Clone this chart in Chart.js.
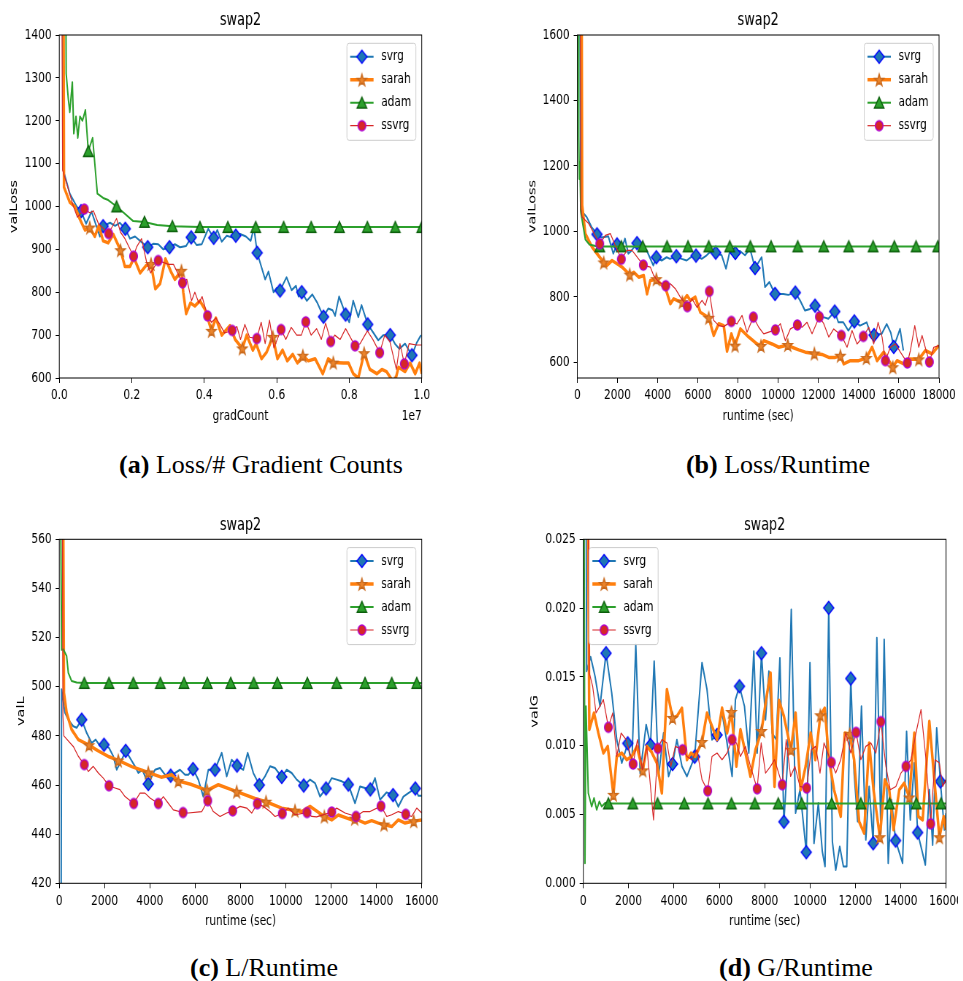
<!DOCTYPE html>
<html lang="en">
<head>
<meta charset="UTF-8">
<title>swap2</title>
<style>
  body { margin: 0; background: #fff; width: 963px; height: 981px; position: relative; overflow: hidden; }
  .painel { position: absolute; width: 600px; transform: scaleX(0.73); transform-origin: 0 0; }
  .legenda {
    position: absolute; font-family: 'Liberation Serif', 'Times New Roman', serif; font-size: 26px;
    line-height: 30px; color: #000; white-space: nowrap; transform: translateX(-50%);
  }
</style>
<script src="https://cdn.jsdelivr.net/npm/chart.js"></script>
</head>
<body>

<div class="painel" style="left:0px;top:0px"><canvas id="ga" width="600" height="430"></canvas></div>
<div class="painel" style="left:520px;top:0px"><canvas id="gb" width="600" height="430"></canvas></div>
<div class="painel" style="left:0px;top:500px"><canvas id="gc" width="600" height="440"></canvas></div>
<div class="painel" style="left:520px;top:500px"><canvas id="gd" width="600" height="440"></canvas></div>

<div class="legenda" style="left:261px;top:450px"><b>(a)</b> Loss/# Gradient Counts</div>
<div class="legenda" style="left:778px;top:450px"><b>(b)</b> Loss/Runtime</div>
<div class="legenda" style="left:264px;top:953px"><b>(c)</b> L/Runtime</div>
<div class="legenda" style="left:796px;top:953px"><b>(d)</b> G/Runtime</div>

<script>
// ---------- (a) valLoss x gradCount (x em unidades de 1e7) ----------
const aXTicks = [0, 0.2, 0.4, 0.6, 0.8, 1.0];
const aXLabels = ['0.0', '0.2', '0.4', '0.6', '0.8', '1.0'];
const aYTicks = [600, 700, 800, 900, 1000, 1100, 1200, 1300, 1400];

const aSvrgLinha = [[0.008,1700],[0.011,1085],[0.029,1030],[0.048,1000],[0.074,960],[0.089,988],[0.112,930],[0.140,962],[0.154,955],[0.167,962],[0.195,925],[0.209,930],[0.223,920],[0.259,913],[0.273,912],[0.287,900],[0.319,912],[0.333,905],[0.350,908],[0.379,910],[0.393,912],[0.411,948],[0.436,945],[0.448,918],[0.462,932],[0.476,928],[0.499,936],[0.515,930],[0.528,920],[0.537,950],[0.568,830],[0.577,848],[0.591,800],[0.600,810],[0.627,835],[0.641,805],[0.653,815],[0.660,790],[0.683,780],[0.698,795],[0.712,775],[0.742,762],[0.754,758],[0.761,745],[0.772,790],[0.784,762],[0.800,730],[0.811,780],[0.825,742],[0.834,770],[0.867,705],[0.880,688],[0.894,700],[0.926,680],[0.938,668],[0.954,680],[0.986,682],[0.998,700]];
const aSvrgMarcas = [[0.060,989],[0.121,954],[0.182,948],[0.244,905],[0.304,905],[0.364,928],[0.426,927],[0.487,932],[0.546,892],[0.609,804],[0.669,800],[0.729,743],[0.790,748],[0.851,725],[0.913,700],[0.973,653]];
const aSarahLinha = [[0.011,1700],[0.013,1045],[0.029,1010],[0.043,1000],[0.057,970],[0.071,945],[0.098,930],[0.109,955],[0.121,920],[0.135,915],[0.149,935],[0.181,860],[0.195,860],[0.206,880],[0.223,845],[0.239,862],[0.265,808],[0.278,820],[0.293,878],[0.308,848],[0.319,830],[0.342,800],[0.350,750],[0.362,775],[0.374,768],[0.388,780],[0.402,760],[0.432,740],[0.448,700],[0.471,722],[0.485,690],[0.517,700],[0.534,665],[0.543,680],[0.558,645],[0.572,660],[0.602,645],[0.616,665],[0.629,640],[0.644,655],[0.657,635],[0.687,640],[0.706,645],[0.727,610],[0.742,645],[0.784,635],[0.798,635],[0.811,610],[0.825,600],[0.857,620],[0.876,610],[0.890,620],[0.903,615],[0.922,590],[0.936,625],[0.954,615],[0.968,635],[0.982,610],[0.994,635],[1.0,610]];
const aSarahMarcas = [[0.084,951],[0.169,898],[0.253,866],[0.337,850],[0.420,710],[0.505,669],[0.589,696],[0.672,652],[0.756,636],[0.841,658],[0.925,588]];
const aAdamLinha = [[0.017,1700],[0.019,1310],[0.025,1250],[0.029,1220],[0.036,1290],[0.040,1170],[0.046,1210],[0.051,1160],[0.057,1210],[0.064,1200],[0.072,1225],[0.092,1160],[0.105,1030],[0.121,1020],[0.135,1015],[0.204,966],[0.270,957]];
const aAdamMarcas = [[0.080,1129],[0.158,1000],[0.235,964],[0.312,954],[0.388,952],[0.465,952],[0.542,952],[0.619,952],[0.695,952],[0.773,952],[0.850,952],[0.927,952],[1.0,952]];
const aSsvrgLinha = [[0.006,1700],[0.009,1085],[0.025,1040],[0.039,1000],[0.050,975],[0.085,985],[0.094,990],[0.108,960],[0.158,972],[0.169,940],[0.181,925],[0.213,905],[0.227,925],[0.241,870],[0.252,845],[0.301,865],[0.315,865],[0.352,830],[0.365,780],[0.374,800],[0.385,775],[0.394,790],[0.420,730],[0.432,740],[0.443,725],[0.456,705],[0.490,720],[0.500,690],[0.512,725],[0.525,695],[0.557,730],[0.568,680],[0.580,735],[0.592,670],[0.625,690],[0.640,718],[0.655,700],[0.668,700],[0.695,700],[0.710,715],[0.723,690],[0.735,728],[0.760,700],[0.775,690],[0.790,715],[0.830,680],[0.850,710],[0.865,690],[0.898,700],[0.912,685],[0.930,620],[0.940,680],[0.965,680],[0.985,677],[1.0,677]];
const aSsvrgMarcas = [[0.069,994],[0.136,937],[0.205,884],[0.273,874],[0.340,822],[0.409,745],[0.477,711],[0.545,692],[0.612,713],[0.680,731],[0.749,685],[0.816,675],[0.884,659],[0.952,633]];

// ---------- (b) valLoss x runtime ----------
const bXTicks = [0, 2000, 4000, 6000, 8000, 10000, 12000, 14000, 16000, 18000];
const bXLabels = ['0', '2000', '4000', '6000', '8000', '10000', '12000', '14000', '16000', '18000'];
const bYTicks = [600, 800, 1000, 1200, 1400, 1600];

const bSvrgLinha = [[133,1700],[166,1065],[465,1044],[713,1013],[1211,981],[1543,985],[1792,932],[2206,947],[2372,978],[2538,932],[2704,942],[3202,957],[3451,942],[3783,896],[4197,911],[4446,921],[4612,916],[5193,916],[5441,911],[5690,923],[6188,916],[6437,927],[6686,942],[7183,927],[7399,886],[7598,942],[8096,940],[8345,927],[8593,947],[9174,921],[9340,830],[9556,845],[10253,809],[10501,806],[11082,789],[11331,758],[11580,763],[12243,738],[12492,733],[12990,722],[13239,722],[13488,697],[14068,712],[14400,722],[14566,692],[15146,687],[15395,717],[15600,690],[16059,702],[16225,636]];
const bSvrgMarcas = [[980,991],[1976,960],[2971,964],[3931,921],[4927,924],[5907,926],[6887,935],[7863,934],[8843,888],[9838,809],[10849,813],[11829,773],[12810,755],[13785,725],[14765,683],[15746,647]];
const bSarahLinha = [[216,1700],[240,1080],[398,993],[732,952],[980,932],[1478,896],[1727,911],[1976,901],[2225,891],[2807,875],[3056,860],[3305,865],[3469,809],[3633,850],[4216,835],[4380,828],[4629,779],[4798,794],[4962,789],[5460,804],[5624,789],[5873,799],[6122,753],[6371,743],[6788,682],[7037,718],[7286,712],[7450,634],[7665,687],[8113,702],[8531,677],[8944,656],[9277,666],[9690,656],[10022,646],[10686,646],[11019,638],[11348,631],[12179,624],[12512,615],[12841,615],[13258,595],[13587,605],[14006,605],[14667,646],[14916,605],[15249,631],[15911,605],[16245,595],[16494,610],[17320,636],[17653,626],[17987,651]];
const bSarahMarcas = [[1314,905],[2608,868],[3932,854],[5226,784],[6540,736],[7849,651],[9143,650],[10472,653],[11796,627],[13090,620],[14384,613],[15698,585],[16992,609]];
const bAdamLinha = [[60,1700],[70,1290],[100,1160],[130,1210],[170,1060],[250,1030],[400,975],[600,960],[900,955],[18000,954]];
const bAdamMarcas = [[1115,954],[2190,954],[3255,954],[4464,954],[5510,954],[6540,954],[7585,954],[8610,954],[9641,954],[10969,954],[12263,954],[13507,954],[14717,954],[15777,954],[16857,954],[17937,954]];
const bSsvrgLinha = [[150,1700],[180,1070],[234,1044],[567,1024],[1394,988],[1643,993],[1892,957],[2474,942],[2723,942],[3633,891],[3800,865],[4051,845],[4629,840],[4878,825],[5126,799],[5709,794],[5958,768],[6206,789],[6371,774],[6788,728],[7037,712],[7286,709],[7948,717],[8197,743],[8446,692],[9028,707],[9277,687],[9526,692],[10105,718],[10353,666],[10602,702],[11184,707],[11432,722],[11681,687],[12263,718],[12512,677],[12761,702],[13423,646],[13671,697],[13920,656],[14502,707],[14751,656],[14966,722],[15166,677],[15578,646],[15827,656],[16076,631],[16574,636],[16792,712],[16991,646],[17156,682],[17355,636],[17738,646],[18000,651]];
const bSsvrgMarcas = [[1115,962],[2190,915],[3285,897],[4400,834],[5475,770],[6570,817],[7665,725],[8760,738],[9855,699],[10950,714],[12045,739],[13140,682],[14235,679],[15329,605],[16424,598],[17519,601]];

// ---------- (c) valL x runtime ----------
const cdXTicks = [0, 2000, 4000, 6000, 8000, 10000, 12000, 14000, 16000];
const cdXLabels = ['0', '2000', '4000', '6000', '8000', '10000', '12000', '14000', '16000'];
const cYTicks = [420, 440, 460, 480, 500, 520, 540, 560];

const cSvrgLinha = [[80,400],[100,499],[250,489.4],[397,486.6],[618,483.9],[768,483.3],[1209,481.2],[1430,477.1],[1607,478.5],[1790,476],[2194,475.1],[2384,471.7],[2534,466.2],[2755,470.3],[3166,470.3],[3342,467.6],[3488,464.9],[3665,466.2],[4225,466.2],[4446,466.9],[4667,464.2],[5108,464.9],[5329,466.2],[5550,464.2],[5697,464.2],[6137,462.2],[6358,455.3],[6579,466.2],[7170,473.1],[7391,463.5],[7611,470.3],[8125,466.2],[8317,473.1],[8565,464.9],[9082,463.5],[9302,467.6],[9523,466.9],[10039,466.2],[10260,464.9],[10481,462.2],[11069,462.2],[11289,460.8],[11510,455.3],[12026,462.8],[12247,462.2],[12468,461.5],[13055,452.6],[13276,459.4],[13497,458.8],[13938,462.8],[14159,454],[14450,457],[14968,451.2],[15189,455.3],[15409,456.7],[15850,455.6],[16000,455.6]];
const cSvrgMarcas = [[989,486.6],[1974,476.4],[2932,473.9],[3929,460.4],[4918,463.8],[5903,466.5],[6874,466.2],[7846,467.9],[8830,460.0],[9819,463.3],[10790,459.8],[11775,458.6],[12760,460.2],[13731,458.2],[14733,455.9],[15717,458.6]];
const cSarahLinha = [[160,600],[206,497.5],[324,489.4],[545,482.6],[839,478.5],[1700,474],[2200,471.5],[3200,467.5],[4500,463.2],[4962,464.2],[5800,460.3],[7020,460.1],[8640,454.5],[9819,450.6],[10702,449.2],[11069,451.3],[12026,445.8],[12320,447.8],[12910,445.8],[13497,444.5],[13790,445.5],[14085,444.5],[14675,443.1],[14968,445.8],[15262,444.5],[16000,445.8]];
const cSarahMarcas = [[1311,476.2],[2605,470.0],[3929,465.1],[5254,461.6],[6521,457.8],[7832,457.3],[9126,453.2],[10406,449.6],[11700,447.2],[13040,446.3],[14336,443.9],[15646,445.3]];
const cAdamLinha = [[40,600],[103,515],[177,515.2],[324,512.5],[397,505.7],[545,502.3],[766,501.7],[16000,501.5]];
const cAdamMarcas = [[1104,501.5],[2194,501.5],[3267,501.5],[4459,501.5],[5505,501.5],[6534,501.5],[7567,501.5],[8583,501.5],[9625,501.5],[10949,501.5],[12247,501.5],[13497,501.5],[14675,501.5],[15779,501.5]];
const cSsvrgLinha = [[125,600],[160,488],[200,480],[618,475.7],[839,471.7],[1280,465.5],[1501,467.6],[1722,464.9],[1943,462.8],[2459,458.8],[2680,458.1],[2901,455.3],[3563,456.7],[3784,456.7],[4004,454.7],[4592,455.3],[4812,452.6],[5033,449.9],[5697,448.6],[6288,449.2],[6799,449.2],[7095,447.2],[7391,448.6],[7978,451.3],[8273,450.6],[8494,448.6],[9007,451.3],[9302,449.2],[9523,447.2],[10111,450.6],[10406,447.9],[11142,447.2],[11360,447],[12247,450.6],[12614,448.6],[13422,449.2],[13717,449.2],[14453,447.2],[14675,447.9],[14968,449.2],[15557,447.2],[15779,450.6],[16000,448.6]];
const cSsvrgMarcas = [[1104,468.3],[2194,459.7],[3285,452.5],[4371,452.5],[5462,448.8],[6552,453.6],[7656,449.5],[8742,452.4],[9846,448.4],[10936,448.8],[12026,449.0],[13099,447.2],[14203,451.4],[15294,448.1]];

// ---------- (d) valG x runtime ----------
const dYTicks = [0, 0.005, 0.010, 0.015, 0.020, 0.025];
const dYLabels = ['0.000', '0.005', '0.010', '0.015', '0.020', '0.025'];

const dSvrgLinha = [[120,0.03],[147,0.01541],[324,0.01646],[516,0.01505],[737,0.01287],[1253,0.01384],[1475,0.01044],[1696,0.00874],[2138,0.0085],[2315,0.01736],[2507,0.00801],[2772,0.01153],[3126,0.01614],[3318,0.00777],[3539,0.01092],[3760,0.00777],[4129,0.01044],[4350,0.0085],[4572,0.00777],[5235,0.01602],[5456,0.01408],[5677,0.01044],[6120,0.01238],[6341,0.0102],[6563,0.00777],[6710,0.01335],[7108,0.01287],[7300,0.00947],[7521,0.01687],[7668,0.00947],[8037,0.01189],[8185,0.01541],[8332,0.01092],[8509,0.01044],[8671,0.01638],[8996,0.0085],[9173,0.0199],[9364,0.0051],[9556,0.0068],[9998,0.01602],[10175,0.00291],[10367,0.00583],[10544,0.00231],[10662,0.00122],[10987,0.00303],[11134,0.00097],[11311,0.00267],[11473,0.00122],[11621,0.00122],[11945,0.00801],[12100,0.0045],[12269,0.01287],[12461,0.00316],[12609,0.00704],[12948,0.01784],[13125,0.00364],[13272,0.01772],[13449,0.00146],[13596,0.00607],[14083,0.00146],[14260,0.01104],[14423,0.00461],[14600,0.00874],[15086,0.00134],[15263,0.0068],[15410,0.00279],[15587,0.01129],[15927,0.00389],[16000,0.0051]];
const dSvrgMarcas = [[1003,0.01672],[1961,0.01017],[2964,0.01005],[3937,0.00867],[4911,0.0092],[5899,0.01078],[6887,0.01432],[7860,0.01672],[8848,0.00447],[9836,0.00226],[10824,0.02002],[11797,0.01488],[12785,0.00291],[13773,0.00311],[14747,0.00369],[15750,0.0074]];
const dSarahLinha = [[200,0.03],[265,0.01117],[472,0.01238],[664,0.01092],[885,0.00947],[1077,0.00995],[1475,0.00922],[1696,0.00947],[1917,0.00898],[2138,0.00922],[2360,0.00995],[2802,0.00995],[2994,0.00959],[3244,0.00874],[3465,0.00656],[3687,0.01408],[4129,0.01214],[4350,0.01274],[4572,0.00898],[4749,0.00947],[4940,0.00922],[5456,0.01238],[5677,0.01141],[5899,0.01044],[6120,0.01274],[6341,0.01092],[6754,0.0085],[6931,0.01117],[7152,0.00947],[7374,0.00777],[7595,0.00971],[8081,0.01354],[8258,0.01529],[8435,0.00704],[8627,0.0133],[8848,0.01214],[9364,0.01238],[9586,0.0068],[9807,0.0085],[10028,0.01092],[10234,0.00898],[10647,0.01274],[10839,0.00898],[11060,0.0068],[11355,0.00486],[11532,0.01092],[11945,0.00898],[12166,0.00449],[12387,0.00364],[12609,0.0102],[12801,0.0068],[13301,0.00753],[13493,0.0068],[13685,0.00389],[13936,0.0068],[14157,0.00728],[14600,0.01092],[14777,0.00486],[14969,0.00461],[15263,0.01177],[15484,0.00753],[15897,0.00486],[16000,0.00389]];
const dSarahMarcas = [[1327,0.00643],[2625,0.00821],[3937,0.01202],[5235,0.01027],[6533,0.01245],[7860,0.01107],[9158,0.00971],[10456,0.01221],[11753,0.01085],[13081,0.00335],[14379,0.00624],[15706,0.00335]];
const dAdamLinha = [[30,0.03],[74,0.00146],[118,0.01287],[221,0.00655],[295,0.00607],[369,0.00558],[472,0.00619],[590,0.00534],[708,0.00595],[811,0.00558],[958,0.00583],[16000,0.0058]];
const dAdamMarcas = [[1106,0.0058],[2183,0.0058],[3274,0.0058],[4454,0.0058],[5501,0.0058],[6533,0.0058],[7565,0.0058],[8597,0.0058],[9630,0.0058],[10957,0.0058],[12240,0.0058],[13508,0.0058],[14688,0.0058],[15779,0.0058]];
const dSsvrgLinha = [[200,0.03],[265,0.01529],[413,0.01432],[560,0.01238],[737,0.01287],[885,0.01335],[1298,0.01238],[1475,0.00922],[1666,0.01092],[1888,0.01044],[2389,0.01044],[2610,0.00825],[2802,0.00995],[3097,0.00461],[3466,0.01044],[3687,0.0102],[3864,0.0085],[4056,0.00995],[4572,0.00922],[4793,0.00898],[5014,0.00971],[5235,0.00753],[5677,0.00922],[5899,0.00947],[6120,0.00898],[6341,0.00947],[6754,0.0102],[6931,0.00922],[7152,0.00995],[7374,0.0085],[7845,0.0102],[8037,0.00801],[8258,0.0085],[8435,0.00898],[8951,0.01044],[9143,0.00777],[9335,0.0085],[9556,0.00704],[10057,0.00971],[10249,0.00995],[10441,0.00801],[10618,0.0102],[11134,0.00801],[11355,0.00898],[11576,0.01092],[11797,0.00947],[12240,0.00898],[12461,0.00995],[12682,0.0102],[12904,0.00947],[13346,0.0085],[13538,0.0068],[13788,0.00704],[14010,0.00801],[14452,0.00898],[14674,0.01092],[14895,0.01262],[15116,0.00898],[15513,0.00898],[15706,0.00874],[15853,0.00704],[16000,0.00753]];
const dSsvrgMarcas = [[1106,0.01134],[2197,0.00867],[3289,0.00981],[4380,0.00971],[5486,0.00672],[6563,0.01044],[7668,0.00687],[8774,0.00716],[9851,0.00692],[10942,0.00879],[12034,0.01097],[13125,0.01175],[14231,0.0085],[15322,0.00432]];

// ---------- estilo ----------
const fam = "'DejaVu Sans', 'Liberation Sans', sans-serif";
const fonteTxt = { family: fam, size: 14.5 };

// marcadores desenhados num canvas pequeno (pointStyle aceita canvas)
function desenhaMarcador(tipo) {
  const c = document.createElement('canvas');
  c.width = 20; c.height = 20;
  const g = c.getContext('2d');
  g.translate(10, 10);
  g.lineWidth = 1.4;
  g.beginPath();
  if (tipo === 'losango') {
    g.moveTo(0, -6.6); g.lineTo(7, 0); g.lineTo(0, 6.6); g.lineTo(-7, 0);
    g.fillStyle = '#1f77b4'; g.strokeStyle = '#0000ff';
  } else if (tipo === 'estrela') {
    for (let k = 0; k < 10; k++) {
      const r = k % 2 === 0 ? 6.8 : 2.7;
      const ang = -Math.PI / 2 + k * Math.PI / 5;
      const px = r * Math.cos(ang), py = r * Math.sin(ang) * 0.94 + 0.6;
      if (k === 0) g.moveTo(px, py); else g.lineTo(px, py);
    }
    g.fillStyle = '#ec852c'; g.strokeStyle = '#c9691c';
  } else if (tipo === 'triangulo') {
    g.moveTo(0, -5.6); g.lineTo(6.6, 5.2); g.lineTo(-6.6, 5.2);
    g.fillStyle = '#2ca02c'; g.strokeStyle = '#0b5d0b';
  } else {
    g.ellipse(0, 0, 5.4, 5.0, 0, 0, Math.PI * 2);
    g.fillStyle = '#d62728'; g.strokeStyle = '#b000d0';
  }
  g.closePath();
  g.fill();
  g.stroke();
  return c;
}
const imgLosango = desenhaMarcador('losango');
const imgEstrela = desenhaMarcador('estrela');
const imgTriangulo = desenhaMarcador('triangulo');
const imgCirculo = desenhaMarcador('circulo');

function serie(nome, linha, marcas, cor, largura, img, ordem) {
  const pts = linha.map(p => ({ x: p[0], y: p[1], mk: false }))
    .concat(marcas.map(p => ({ x: p[0], y: p[1], mk: true })))
    .sort((a, b) => a.x - b.x);
  return {
    label: nome, data: pts, borderColor: cor, backgroundColor: cor, borderWidth: largura,
    pointStyle: img, pointRadius: c => (c.raw && c.raw.mk ? 4 : 0), pointHoverRadius: 0,
    tension: 0, clip: 0, order: ordem, borderJoinStyle: 'round', fill: false
  };
}

// moldura (spines), legenda dentro do grafico e texto "1e7"
const moldura = {
  id: 'moldura',
  afterDatasetsDraw(chart, args, opts) {
    const { ctx, chartArea: a } = chart;
    ctx.save();
    ctx.strokeStyle = '#000';
    ctx.lineWidth = 1;
    ctx.strokeRect(a.left, a.top, a.right - a.left, a.bottom - a.top);

    const bw = 94.5, bh = 97;
    const bx = opts.lado === 'esq' ? a.left + 8 : a.right - 8 - bw;
    const by = a.top + 8.3;
    ctx.beginPath();
    ctx.roundRect(bx, by, bw, bh, 3);
    ctx.fillStyle = 'rgba(255,255,255,0.8)';
    ctx.fill();
    ctx.strokeStyle = '#cccccc';
    ctx.stroke();
    chart.data.datasets.forEach((d, i) => {
      const cy = by + 13.4 + i * 23;
      ctx.strokeStyle = d.borderColor;
      ctx.lineWidth = d.borderWidth;
      ctx.beginPath();
      ctx.moveTo(bx + 4.5, cy);
      ctx.lineTo(bx + 36.5, cy);
      ctx.stroke();
      ctx.drawImage(d.pointStyle, bx + 20.5 - 10, cy - 10);
      ctx.fillStyle = '#000';
      ctx.font = '14.5px ' + fam;
      ctx.textBaseline = 'middle';
      ctx.textAlign = 'left';
      ctx.fillText(d.label, bx + 47, cy);
    });

    if (opts.offset) {
      ctx.fillStyle = '#000';
      ctx.font = '14.5px ' + fam;
      ctx.textAlign = 'right';
      ctx.textBaseline = 'middle';
      ctx.fillText(opts.offset, a.right, a.bottom + 38.5);
    }
    ctx.restore();
  }
};

function painel(id, p) {
  new Chart(document.getElementById(id), {
    type: 'line',
    data: {
      datasets: [
        serie('svrg', p.svrg[0], p.svrg[1], '#1f77b4', 2, imgLosango, 4),
        serie('sarah', p.sarah[0], p.sarah[1], '#ff7f0e', 3.5, imgEstrela, 3),
        serie('adam', p.adam[0], p.adam[1], '#2ca02c', 2, imgTriangulo, 2),
        serie('ssvrg', p.ssvrg[0], p.ssvrg[1], '#d62728', 1.2, imgCirculo, 1)
      ]
    },
    options: {
      responsive: false,
      animation: false,
      events: [],
      devicePixelRatio: 1,
      layout: { padding: { left: 0, right: p.padDir, top: 0, bottom: 0 } },
      plugins: {
        legend: { display: false },
        tooltip: { enabled: false },
        title: {
          display: true, text: 'swap2', fullSize: false, color: '#000',
          font: { family: fam, size: 17.5, weight: 'normal' }, padding: p.titPad
        },
        moldura: { lado: p.lado, offset: p.offset }
      },
      scales: {
        x: {
          type: 'linear', min: p.xMin, max: p.xMax,
          afterBuildTicks: s => { s.ticks = p.xTicks.map(v => ({ value: v })); },
          afterFit: s => { s.height = p.xAltura; s.paddingLeft = 0; s.paddingRight = 0; },
          ticks: {
            font: fonteTxt, color: '#000', padding: 4, maxRotation: 0, minRotation: 0, autoSkip: false,
            callback: (v, i) => p.xLabels[i]
          },
          grid: { drawOnChartArea: false, drawTicks: true, tickLength: 5, color: '#000' },
          border: { display: false },
          title: { display: true, text: p.xTitulo, font: fonteTxt, color: '#000', padding: { top: 0, bottom: p.xTitPad } }
        },
        y: {
          type: 'linear', min: p.yMin, max: p.yMax,
          afterBuildTicks: s => { s.ticks = p.yTicks.map(v => ({ value: v })); },
          afterFit: s => { s.width = p.yLargura; s.paddingTop = 0; s.paddingBottom = 0; },
          ticks: {
            font: fonteTxt, color: '#000', padding: 5.5, autoSkip: false,
            callback: (v, i) => p.yLabels[i]
          },
          grid: { drawOnChartArea: false, drawTicks: true, tickLength: 5, color: '#000' },
          border: { display: false },
          title: { display: true, text: p.yTitulo, font: fonteTxt, color: '#000', padding: { top: p.yTitPad, bottom: 0 } }
        }
      }
    },
    plugins: [moldura]
  });
}

painel('ga', {
  svrg: [aSvrgLinha, aSvrgMarcas], sarah: [aSarahLinha, aSarahMarcas],
  adam: [aAdamLinha, aAdamMarcas], ssvrg: [aSsvrgLinha, aSsvrgMarcas],
  xMin: 0, xMax: 1.0, xTicks: aXTicks, xLabels: aXLabels, xTitulo: 'gradCount',
  yMin: 600, yMax: 1400, yTicks: aYTicks, yLabels: aYTicks.map(String), yTitulo: 'valLoss',
  padDir: 22.3, yLargura: 81.2, xAltura: 52, xTitPad: 4.8, yTitPad: 10.5,
  titPad: { top: 9.5, bottom: 4.5 }, lado: 'dir', offset: '1e7'
});

painel('gb', {
  svrg: [bSvrgLinha, bSvrgMarcas], sarah: [bSarahLinha, bSarahMarcas],
  adam: [bAdamLinha, bAdamMarcas], ssvrg: [bSsvrgLinha, bSsvrgMarcas],
  xMin: 0, xMax: 18000, xTicks: bXTicks, xLabels: bXLabels, xTitulo: 'runtime (sec)',
  yMin: 552, yMax: 1600, yTicks: bYTicks, yLabels: bYTicks.map(String), yTitulo: 'valLoss',
  padDir: 26, yLargura: 78.5, xAltura: 52, xTitPad: 4.8, yTitPad: 8.7,
  titPad: { top: 9.5, bottom: 4.5 }, lado: 'dir', offset: ''
});

painel('gc', {
  svrg: [cSvrgLinha, cSvrgMarcas], sarah: [cSarahLinha, cSarahMarcas],
  adam: [cAdamLinha, cAdamMarcas], ssvrg: [cSsvrgLinha, cSsvrgMarcas],
  xMin: 0, xMax: 16000, xTicks: cdXTicks, xLabels: cdXLabels, xTitulo: 'runtime (sec)',
  yMin: 420, yMax: 560, yTicks: cYTicks, yLabels: cYTicks.map(String), yTitulo: 'valL',
  padDir: 22.3, yLargura: 81.2, xAltura: 56.7, xTitPad: 10.3, yTitPad: 20.1,
  titPad: { top: 14.5, bottom: 3.8 }, lado: 'dir', offset: ''
});

painel('gd', {
  svrg: [dSvrgLinha, dSvrgMarcas], sarah: [dSarahLinha, dSarahMarcas],
  adam: [dAdamLinha, dAdamMarcas], ssvrg: [dSsvrgLinha, dSsvrgMarcas],
  xMin: 0, xMax: 16000, xTicks: cdXTicks, xLabels: cdXLabels, xTitulo: 'runtime (sec)',
  yMin: 0, yMax: 0.025, yTicks: dYTicks, yLabels: dYLabels, yTitulo: 'valG',
  padDir: 16.4, yLargura: 86.7, xAltura: 56.7, xTitPad: 10.3, yTitPad: 11.8,
  titPad: { top: 14.5, bottom: 3.8 }, lado: 'esq', offset: ''
});
</script>
</body>
</html>
